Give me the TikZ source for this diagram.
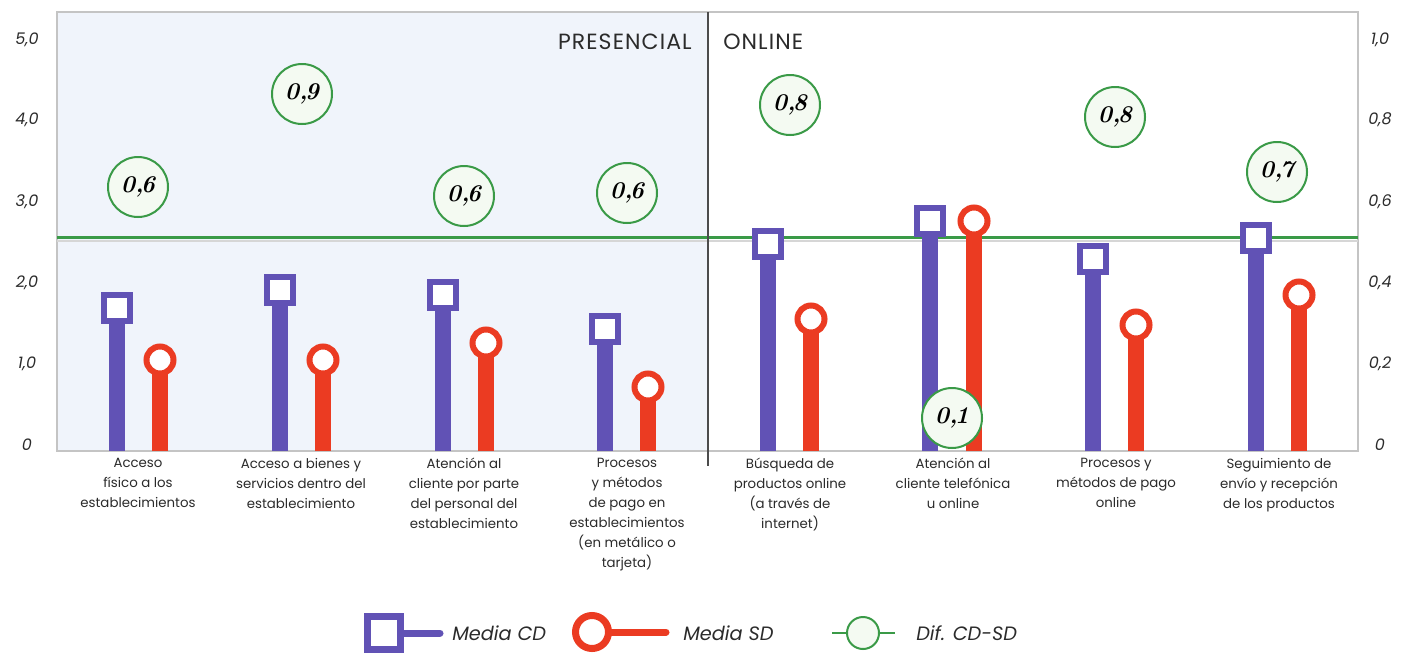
\documentclass[tikz,border=0pt]{standalone}
\usepackage{fontspec}
\setsansfont{Poppins}
\definecolor{purp}{HTML}{6152B5}
\definecolor{redc}{HTML}{EB3B22}
\definecolor{greenc}{HTML}{3A9A47}
\definecolor{difffill}{HTML}{F4FAF2}
\definecolor{shadec}{HTML}{F0F4FB}
\definecolor{framec}{HTML}{C4C4C4}
\definecolor{txt}{HTML}{2B2B2B}
\newcommand{\dnum}[2]{#1,\kern-2pt#2}
\begin{document}
\begin{tikzpicture}[x=0.75pt,y=-0.75pt,
  pbar/.style={draw=purp,line width=12pt},
  rbar/.style={draw=redc,line width=12pt},
  sqmark/.style={draw=purp,fill=white,line width=4.5pt,minimum size=19.5pt,inner sep=0pt,rectangle},
  rcmark/.style={draw=redc,fill=white,line width=4.5pt,minimum size=20.25pt,inner sep=0pt,circle},
  difmark/.style={draw=greenc,fill=difffill,line width=1.5pt,minimum size=45pt,inner sep=0pt,circle,
    font=\rmfamily\bfseries\itshape\fontsize{18}{18}\selectfont},
  axlab/.style={font=\sffamily\itshape\fontsize{12}{12}\selectfont,text=txt},
  catlab/.style={font=\sffamily\fontsize{10}{15}\selectfont,text=txt,align=center,anchor=north,inner sep=0pt},
  head/.style={font=\sffamily\fontsize{16.5}{16.5}\selectfont\addfontfeature{LetterSpace=5},text=txt,inner sep=0pt},
  legtxt/.style={font=\sffamily\itshape\fontsize{14.5}{14.5}\selectfont,text=txt,anchor=west,inner sep=0pt}
]
\useasboundingbox (0,0) rectangle (1406,657);
\fill[white] (0,0) rectangle (1406,657);
% panels
\fill[shadec] (57,12) rectangle (708,451);
\draw[framec,line width=1pt] (57,12) rectangle (1358,451);
\draw[framec!70,line width=0.8pt] (57,241) -- (1358,241);
\draw[greenc,line width=2.25pt] (57,237) -- (1358,237);
\draw[black!70,line width=1.1pt] (708,12) -- (708,466);
\node[head,anchor=east] (hp) at (692,42) {PRESENCIAL};
\node[head,anchor=west] (ho) at (723,42) {ONLINE};
% axis labels
\node[axlab] (l5) at (27,40) {5,0};
\node[axlab] (l4) at (27,120) {4,0};
\node[axlab] (l3) at (27,202) {3,0};
\node[axlab] (l2) at (27,283) {2,0};
\node[axlab] (l1) at (27,364) {1,0};
\node[axlab] (l0) at (27,445) {0};
\node[axlab] (r5) at (1380,40) {1,0};
\node[axlab] (r4) at (1380,120) {0,8};
\node[axlab] (r3) at (1380,202) {0,6};
\node[axlab] (r2) at (1380,283) {0,4};
\node[axlab] (r1) at (1380,364) {0,2};
\node[axlab] (r0) at (1380,445) {0};
% bars and markers
\foreach \i/\px/\py/\rx/\ry in {1/117/308/160/360, 2/280/290/323/360, 3/443/295/486/343, 4/605/329/648/387,
  5/768/244/811/319, 6/930/221/974/221, 7/1093/259/1136/325, 8/1256/238/1299/295}{
  \coordinate (pb\i) at (\px,451);
  \coordinate (rb\i) at (\rx,451);
  \coordinate (pt\i) at (\px,\py);
  \coordinate (rt\i) at (\rx,\ry);
  \draw[pbar] (pb\i) -- (pt\i);
  \draw[rbar] (rb\i) -- (rt\i);
  \node[sqmark] (sq\i) at (pt\i) {};
  \node[rcmark] (rc\i) at (rt\i) {};
}
% difference circles
\node[difmark] (d1) at (138,187) {\dnum{0}{6}};
\node[difmark] (d2) at (302,94) {\dnum{0}{9}};
\node[difmark] (d3) at (464,196) {\dnum{0}{6}};
\node[difmark] (d4) at (627,193) {\dnum{0}{6}};
\node[difmark] (d5) at (790,105) {\dnum{0}{8}};
\node[difmark] (d6) at (952,418) {\dnum{0}{1}};
\node[difmark] (d7) at (1115,117) {\dnum{0}{8}};
\node[difmark] (d8) at (1277,172) {\dnum{0}{7}};
% category labels
\node[catlab] (c1) at (138,458) {Acceso\\físico a los\\establecimientos};
\node[catlab] (c2) at (301,458) {Acceso a bienes y\\servicios dentro del\\establecimiento};
\node[catlab] (c3) at (464,458) {Atención al\\cliente por parte\\del personal del\\establecimiento};
\node[catlab] (c4) at (627,458) {Procesos\\y métodos\\de pago en\\establecimientos\\(en metálico o\\tarjeta)};
\node[catlab] (c5) at (790,458) {Búsqueda de\\productos online\\(a través de\\internet)};
\node[catlab] (c6) at (953,458) {Atención al\\cliente telefónica\\u online};
\node[catlab] (c7) at (1116,458) {Procesos y\\métodos de pago\\online};
\node[catlab] (c8) at (1279,458) {Seguimiento de\\envío y recepción\\de los productos};
% legend
\coordinate (lsqc) at (384,633);
\coordinate (lsqe) at (440,633);
\draw[purp,line width=5.25pt,line cap=round] (lsqc) -- (lsqe);
\node[draw=purp,fill=white,line width=5.25pt,minimum size=24.75pt,inner sep=0pt] (lsq) at (lsqc) {};
\node[legtxt] (lt1) at (452,633) {Media CD};
\coordinate (lrcc) at (592,632);
\coordinate (lrce) at (666,632);
\draw[redc,line width=5.25pt,line cap=round] (lrcc) -- (lrce);
\node[circle,draw=redc,fill=white,line width=5.25pt,minimum size=24.75pt,inner sep=0pt] (lrc) at (lrcc) {};
\node[legtxt] (lt2) at (683,633) {Media SD};
\coordinate (lga) at (832,633);
\coordinate (lgb) at (895,633);
\draw[greenc,line width=1.5pt] (lga) -- (lgb);
\node[circle,draw=greenc,fill=difffill,line width=1.5pt,minimum size=24pt,inner sep=0pt] (lgc) at (863,633) {};
\node[legtxt] (lt3) at (916,633) {Dif. CD-SD};
\end{tikzpicture}
\end{document}
